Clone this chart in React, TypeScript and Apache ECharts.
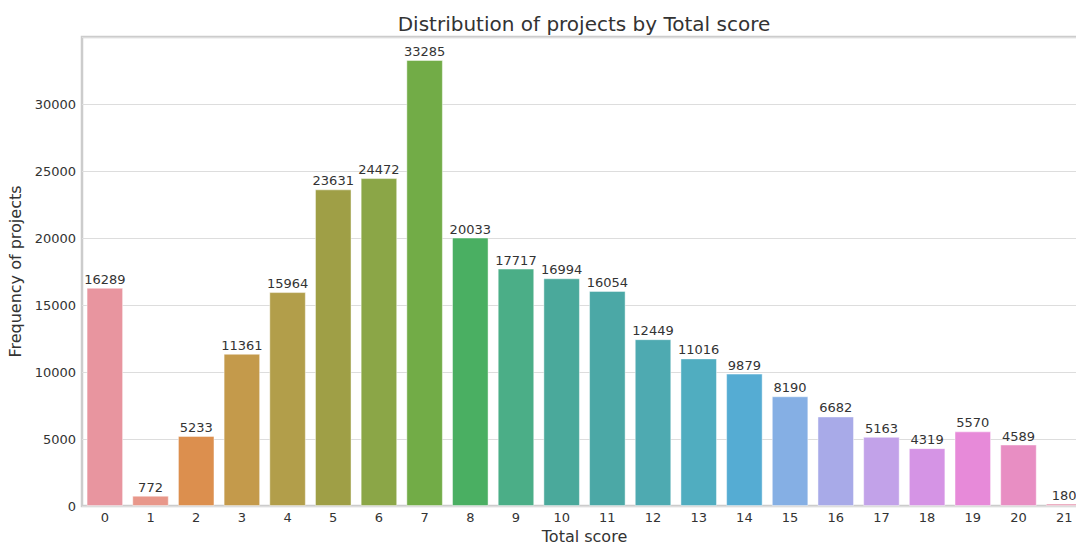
import React, { useEffect, useRef } from "react";
import * as echarts from "echarts";

const categories = ["0","1","2","3","4","5","6","7","8","9","10","11","12","13","14","15","16","17","18","19","20","21"];
const counts = [16289, 772, 5233, 11361, 15964, 23631, 24472, 33285, 20033, 17717, 16994, 16054, 12449, 11016, 9879, 8190, 6682, 5163, 4319, 5570, 4589, 180];
const barColors = [
  "#e8959f", "#e8978a", "#dc8f4e", "#c49a4b", "#b29e4a", "#9f9f46", "#8ba647", "#72ac47",
  "#4aaf62", "#4bae87", "#4aa99b", "#4ba8a6", "#4eaab1", "#50adc0", "#55acd3", "#85afe4",
  "#a8aae8", "#c2a2e9", "#d594e5", "#e78ad9", "#e88ec3", "#e893ae"
];
const yTicks = [0, 5000, 10000, 15000, 20000, 25000, 30000];

const FONT = "DejaVu Sans";

export default function App() {
  const ref = useRef<HTMLDivElement>(null);
  useEffect(() => {
    if (!ref.current) return;
    const chart = echarts.init(ref.current, null, { renderer: "svg" });
    chart.setOption({
      animation: false,
      backgroundColor: "#ffffff",
      title: {
        text: "Distribution of projects by Total score",
        left: 579,
        textAlign: "center",
        top: 9,
        textStyle: { fontFamily: FONT, fontSize: 20, fontWeight: "normal", color: "#333333" },
      },
      grid: {
        left: 82,
        top: 37,
        right: 13,
        bottom: 36,
        outerBoundsMode: "none",
        containLabel: false,
        show: true,
        borderColor: "#cccccc",
        borderWidth: 2.5,
        backgroundColor: "transparent",
      },
      xAxis: {
        type: "category",
        data: categories,
        name: "Total score",
        nameLocation: "middle",
        nameGap: 22,
        nameTextStyle: { fontFamily: FONT, fontSize: 16, lineHeight: 12, color: "#333333" },
        axisLine: { show: false },
        axisTick: { show: false },
        axisLabel: { fontFamily: FONT, fontSize: 13, color: "#333333", margin: 5 },
      },
      yAxis: {
        type: "value",
        min: 0,
        max: 35000,
        interval: 5000,
        name: "Frequency of projects",
        nameLocation: "middle",
        nameGap: 57,
        nameTextStyle: { fontFamily: FONT, fontSize: 16, color: "#333333" },
        axisLine: { show: false },
        axisTick: { show: false },
        axisLabel: {
          fontFamily: FONT,
          fontSize: 13,
          color: "#333333",
          margin: 6,
          formatter: (v: number) => (yTicks.includes(v) ? String(v) : ""),
        },
        splitLine: { show: true, lineStyle: { color: "#dddddd", width: 1 } },
      },
      series: [
        {
          type: "bar",
          barCategoryGap: "20%",
          data: counts.map((v, i) => ({
            value: v,
            itemStyle: { color: barColors[i], borderColor: "rgba(255,255,255,0.45)", borderWidth: 1 },
          })),
          label: {
            show: true,
            position: "top",
            distance: 2,
            fontFamily: FONT,
            fontSize: 13,
            color: "#333333",
          },
        },
      ],
    });
    return () => chart.dispose();
  }, []);
  return (
    <div style={{ position: "fixed", left: 0, top: 0, width: 1076, height: 542, overflow: "hidden" }}>
      <div ref={ref} style={{ position: "absolute", left: 0, top: 0, width: 1100, height: 542 }} />
    </div>
  );
}
